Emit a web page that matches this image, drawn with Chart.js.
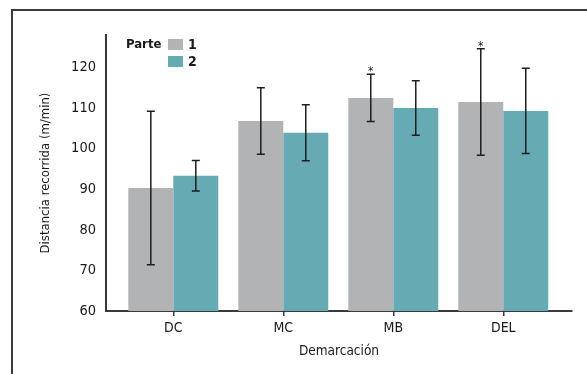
<!DOCTYPE html>
<html>
<head>
<meta charset="utf-8">
<script src="https://cdn.jsdelivr.net/npm/chart.js@4.4.1/dist/chart.umd.min.js"></script>
<style>
  html, body { margin: 0; padding: 0; background: #fff; }
  #wrap { position: relative; width: 587px; height: 374px; }
  #frame { position: absolute; left: 11px; top: 9px; right: -10px; bottom: -10px;
           border-top: 2px solid #3a3a3a; border-left: 2px solid #3a3a3a; pointer-events: none; }
  canvas { position: absolute; left: 0; top: 0; }
</style>
</head>
<body>
<div id="wrap">
  <canvas id="chart" width="587" height="374"></canvas>
  <div id="frame"></div>
</div>
<script>
    "use strict";

    // Data
    const categories = ['DC', 'MC', 'MB', 'DEL'];
    const seriesLabels = ['1', '2'];
    const part1Mean = [90.3, 106.8, 112.5, 111.5];
    const part1Sd = [18.9, 8.2, 5.8, 13.1];
    const part2Mean = [93.3, 103.9, 110.0, 109.3];
    const part2Sd = [3.75, 6.9, 6.7, 10.5];
    const part1Marks = ['', '', '*', '*'];
    const part2Marks = ['', '', '', ''];
    const yTicks = [60, 70, 80, 90, 100, 110, 120];

    const FONT = "'DejaVu Sans Condensed', 'Liberation Sans', sans-serif";
    const colors = ['#b2b3b5', '#66aab4'];

    const toPoints = values => values.map((v, i) => ({ x: i, y: v }));

    const datasets = [
        { label: seriesLabels[0], data: toPoints(part1Mean), sd: part1Sd, marks: part1Marks, backgroundColor: colors[0] },
        { label: seriesLabels[1], data: toPoints(part2Mean), sd: part2Sd, marks: part2Marks, backgroundColor: colors[1] }
    ];

    // Error bars and significance marks
    const errorBars = {
        id: 'errorBars',
        afterDatasetsDraw(chart) {
            const { ctx } = chart;
            const yScale = chart.scales.y;
            ctx.save();
            ctx.strokeStyle = '#1e1e1e';
            ctx.lineWidth = 1.5;
            chart.data.datasets.forEach((ds, di) => {
                const meta = chart.getDatasetMeta(di);
                meta.data.forEach((bar, i) => {
                    const m = ds.data[i].y, s = ds.sd[i];
                    const yTop = yScale.getPixelForValue(m + s);
                    const yBot = yScale.getPixelForValue(m - s);
                    const x = bar.x;
                    ctx.beginPath();
                    ctx.moveTo(x, yTop); ctx.lineTo(x, yBot);
                    ctx.moveTo(x - 4, yTop); ctx.lineTo(x + 4, yTop);
                    ctx.moveTo(x - 4, yBot); ctx.lineTo(x + 4, yBot);
                    ctx.stroke();
                    if (ds.marks[i]) {
                        ctx.fillStyle = '#1e1e1e';
                        ctx.font = '12px ' + FONT;
                        ctx.textAlign = 'center';
                        ctx.textBaseline = 'alphabetic';
                        ctx.fillText(ds.marks[i], x, yTop + 1);
                    }
                });
            });
            ctx.restore();
        }
    };

    // Legend: "Parte" heading with stacked swatches
    const partLegend = {
        id: 'partLegend',
        afterDraw(chart) {
            const { ctx } = chart;
            ctx.save();
            ctx.font = 'bold 13px ' + FONT;
            ctx.fillStyle = '#1a1a1a';
            ctx.textBaseline = 'middle';
            ctx.textAlign = 'left';
            ctx.fillText('Parte', 126, 44.5);
            chart.data.datasets.forEach((ds, i) => {
                const y = 39 + i * 17;
                ctx.fillStyle = ds.backgroundColor;
                ctx.fillRect(168, y, 15, 11);
                ctx.fillStyle = '#1a1a1a';
                ctx.font = 'bold 14px ' + FONT;
                ctx.fillText(ds.label, 188, y + 6);
            });
            ctx.restore();
        }
    };

    new Chart(document.getElementById('chart'), {
        type: 'bar',
        data: { datasets },
        options: {
            responsive: false,
            animation: false,
            events: [],
            layout: { padding: { top: 35, right: 15, left: 0, bottom: 0 } },
            datasets: { bar: { categoryPercentage: 0.818, barPercentage: 1.0 } },
            scales: {
                x: {
                    type: 'linear',
                    offset: false,
                    min: -0.612,
                    max: 3.625,
                    afterFit: scale => { scale.height = 63; },
                    grid: { offset: false, drawOnChartArea: false, drawTicks: true, tickLength: 5, color: '#3a3a3a', lineWidth: 1.5 },
                    border: { display: true, color: '#3a3a3a', width: 2 },
                    ticks: {
                        stepSize: 1,
                        includeBounds: false,
                        autoSkip: false,
                        maxRotation: 0,
                        padding: 4,
                        color: '#1a1a1a',
                        font: { family: FONT, size: 14 },
                        callback: v => categories[v] !== undefined ? categories[v] : ''
                    },
                    title: { display: true, text: 'Demarcación', color: '#1a1a1a',
                             font: { family: FONT, size: 13.5 }, padding: { top: 0, bottom: 14 } }
                },
                y: {
                    min: 60,
                    max: 128,
                    afterFit: scale => { scale.width = 106; },
                    afterBuildTicks: scale => { scale.ticks = yTicks.map(v => ({ value: v })); },
                    grid: { display: false, drawTicks: false },
                    border: { display: true, color: '#3a3a3a', width: 2 },
                    ticks: { padding: 10, color: '#1a1a1a', font: { family: FONT, size: 14.5 } },
                    title: { display: true, text: 'Distancia recorrida (m/min)', color: '#1a1a1a',
                             font: { family: FONT, size: 13 }, padding: { top: 38, bottom: 0 } }
                }
            },
            plugins: {
                legend: { display: false },
                tooltip: { enabled: false }
            }
        },
        plugins: [errorBars, partLegend]
    });
</script>
</body>
</html>
